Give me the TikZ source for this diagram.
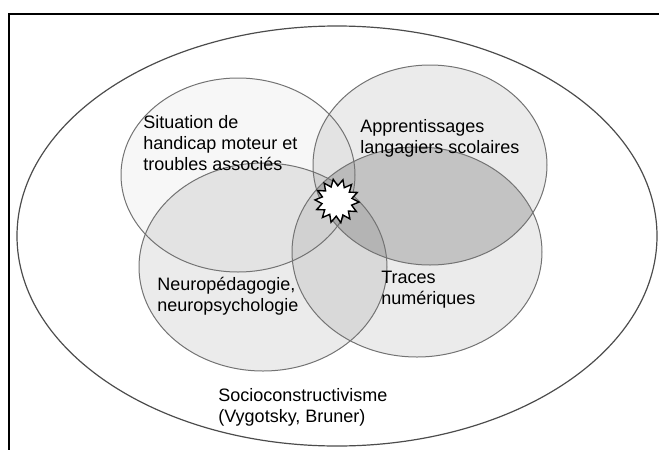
\documentclass[tikz,border=0pt]{standalone}
\usepackage{fontspec}
\setmainfont{Liberation Sans}
\usetikzlibrary{shapes.geometric}
\tikzset{
  cercle/.style    = {draw=black!55, line width=0.5pt},
  fond/.style      = {fill=black, fill opacity=0.08},
  ovale/.style     = {draw=black!70, line width=0.6pt},
  etiquette/.style = {align=left, inner sep=0pt, anchor=base west,
                      font=\fontsize{9}{10.5}\selectfont},
  eclat/.style     = {star, star points=14, star point ratio=1.45, minimum size=22pt,
                      inner sep=0pt, draw=black, line width=0.7pt, fill=white},
  cadre/.style     = {line width=1pt}
}

\begin{document}
\begin{tikzpicture}[x=0.5pt, y=-0.5pt]
  \useasboundingbox (0,0) rectangle (659,450);
  \coordinate (handicap) at (238,175);
  \coordinate (langage)  at (430,165);
  \coordinate (neuro)    at (263,267);
  \coordinate (traces)   at (417,252);

  % fonds grises
  \fill[black!3] (handicap) ellipse [x radius=117, y radius=97];
  \foreach \c/\rx/\ry in {langage/117/100, neuro/124/104, traces/125/105}
    \fill[fond] (\c) ellipse [x radius=\rx, y radius=\ry];
  \begin{scope}
    \clip (langage) ellipse [x radius=117, y radius=100];
    \fill[fond, fill opacity=0.1] (traces) ellipse [x radius=125, y radius=105];
  \end{scope}

  % contours
  \draw[ovale] (337,236) ellipse [x radius=320, y radius=210];
  \draw[cercle] (handicap) ellipse [x radius=117, y radius=97];
  \foreach \c/\rx/\ry in {langage/117/100, neuro/124/104, traces/125/105}
    \draw[cercle] (\c) ellipse [x radius=\rx, y radius=\ry];

  \node[eclat, rotate=10] (eclat) at (337,201) {};

  % base = ligne du bas de chaque etiquette
  \node[etiquette] (situation) at (143,170) {Situation de\\handicap moteur et\\troubles associés};
  \node[etiquette] (apprent)   at (360,153) {Apprentissages\\langagiers scolaires};
  \node[etiquette] (neuropeda) at (157,311) {Neuropédagogie,\\neuropsychologie};
  \node[etiquette] (tracesnum) at (381,304) {Traces\\numériques};
  \node[etiquette] (socio)     at (218,422) {Socioconstructivisme\\(Vygotsky, Bruner)};

  \draw[cadre] (9,450) -- (9,14) -- (659,14);
\end{tikzpicture}
\end{document}
